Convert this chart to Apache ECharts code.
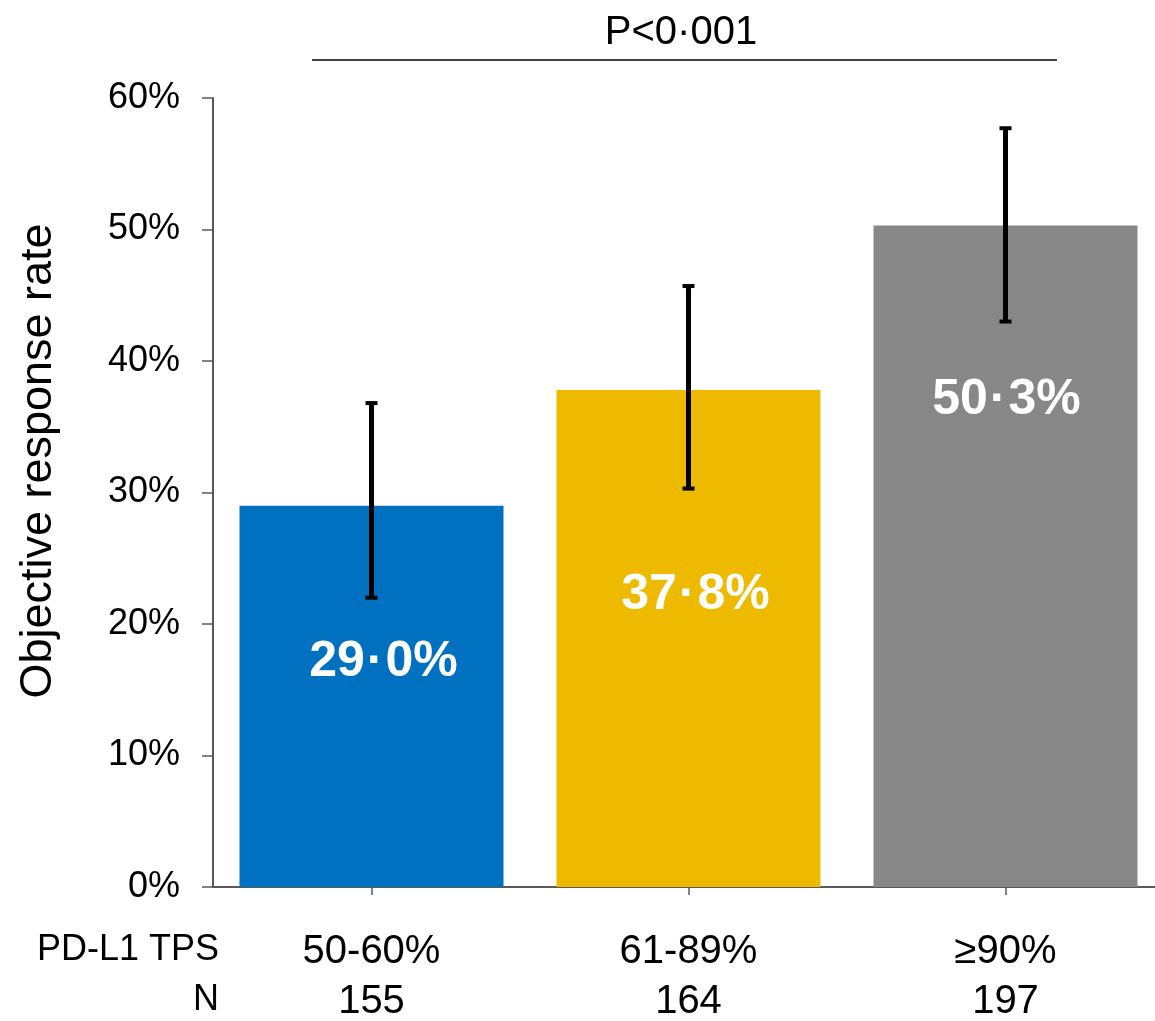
<!DOCTYPE html>
<html>
<head>
<meta charset="utf-8">
<script src="https://cdn.jsdelivr.net/npm/echarts@6/dist/echarts.min.js"></script>
<style>
html,body{margin:0;padding:0;background:#fff;overflow:hidden;}
#chart{width:1155px;height:1021px;}
</style>
</head>
<body>
<div id="chart"></div>
<script>
// ---- data ----
const categories = ['50-60%', '61-89%', '≥90%'];
const nPatients = [155, 164, 197];
const orrValues = [29.0, 37.8, 50.3];
const ciLow = [22.0, 30.3, 43.0];
const ciHigh = [36.8, 45.7, 57.7];
const barLabelInt = ['29', '37', '50'];
const barLabelDec = ['0%', '8%', '3%'];
const barColors = ['#0071C1', '#EEBA00', '#878787'];
const yTicks = [0, 10, 20, 30, 40, 50, 60];
const pText = 'P<0·001';

const FONT = '"Liberation Sans", Arial, Helvetica, sans-serif';
const labelOffsetsY = [157, 205, 175];
const labelOffsetsX = [12, 7, 1];

const chart = echarts.init(document.getElementById('chart'));

const option = {
  backgroundColor: '#ffffff',
  animation: false,
  grid: { left: 213, top: 98, width: 951, height: 789, containLabel: false, outerBoundsMode: 'none' },
  xAxis: {
    type: 'category',
    data: categories,
    axisLine: { show: true, lineStyle: { color: '#595959', width: 2 } },
    axisTick: { show: true, alignWithLabel: true, length: 8, lineStyle: { color: '#595959', width: 1.5 } },
    axisLabel: {
      color: '#000',
      fontFamily: FONT,
      fontSize: 40,
      lineHeight: 50,
      margin: 40,
      formatter: function (v, i) { return v + '\n' + nPatients[i]; }
    },
    splitLine: { show: false }
  },
  yAxis: {
    type: 'value',
    min: yTicks[0],
    max: yTicks[yTicks.length - 1],
    interval: 10,
    axisLine: { show: true, lineStyle: { color: '#595959', width: 2 } },
    axisTick: { show: true, inside: false, length: 11, lineStyle: { color: '#595959', width: 1.5 } },
    axisLabel: {
      color: '#000',
      fontFamily: FONT,
      fontSize: 36,
      margin: 33,
      formatter: '{value}%'
    },
    splitLine: { show: false }
  },
  series: [
    {
      type: 'bar',
      barWidth: 264,
      data: orrValues.map(function (v, i) {
        return {
          value: v,
          itemStyle: { color: barColors[i] },
          label: {
            show: true,
            position: ['50%', labelOffsetsY[i]],
            offset: [labelOffsetsX[i], 0],
            align: 'center',
            verticalAlign: 'middle',
            formatter: '{n|' + barLabelInt[i] + '}{d|·}{n|' + barLabelDec[i] + '}',
            rich: {
              n: { color: '#fff', fontWeight: 'bold', fontFamily: FONT, fontSize: 50 },
              d: { color: '#fff', fontWeight: 'bold', fontFamily: FONT, fontSize: 50, padding: [0, 2, 0, 2] }
            }
          }
        };
      })
    },
    {
      type: 'custom',
      z: 10,
      data: categories.map(function (c, i) { return [i, ciLow[i], ciHigh[i]]; }),
      renderItem: function (params, api) {
        const x = api.value(0);
        const lo = api.coord([x, api.value(1)]);
        const hi = api.coord([x, api.value(2)]);
        const capW = 12, capH = 4;
        return {
          type: 'group',
          children: [
            { type: 'line', shape: { x1: lo[0], y1: lo[1], x2: hi[0], y2: hi[1] },
              style: { stroke: '#000', lineWidth: 5 } },
            { type: 'rect', shape: { x: hi[0] - capW / 2, y: hi[1] - capH / 2, width: capW, height: capH },
              style: { fill: '#000' } },
            { type: 'rect', shape: { x: lo[0] - capW / 2, y: lo[1] - capH / 2, width: capW, height: capH },
              style: { fill: '#000' } }
          ]
        };
      }
    }
  ],
  graphic: [
    {
      type: 'text',
      x: 39, y: 461,
      rotation: Math.PI / 2,
      style: {
        text: 'Objective response rate',
        font: '45px ' + FONT,
        fill: '#000',
        textAlign: 'center',
        textVerticalAlign: 'middle'
      }
    },
    {
      type: 'text',
      x: 219, y: 950,
      style: {
        text: 'PD-L1 TPS',
        font: '36px ' + FONT,
        fill: '#000',
        textAlign: 'right',
        textVerticalAlign: 'middle'
      }
    },
    {
      type: 'text',
      x: 219, y: 1000,
      style: {
        text: 'N',
        font: '36px ' + FONT,
        fill: '#000',
        textAlign: 'right',
        textVerticalAlign: 'middle'
      }
    },
    {
      type: 'text',
      x: 681, y: 33,
      style: {
        text: pText,
        font: '40px ' + FONT,
        fill: '#000',
        textAlign: 'center',
        textVerticalAlign: 'middle'
      }
    },
    {
      type: 'line',
      shape: { x1: 312, y1: 60, x2: 1057, y2: 60 },
      style: { stroke: '#000', lineWidth: 1.5 }
    }
  ]
};

chart.setOption(option);
</script>
</body>
</html>
